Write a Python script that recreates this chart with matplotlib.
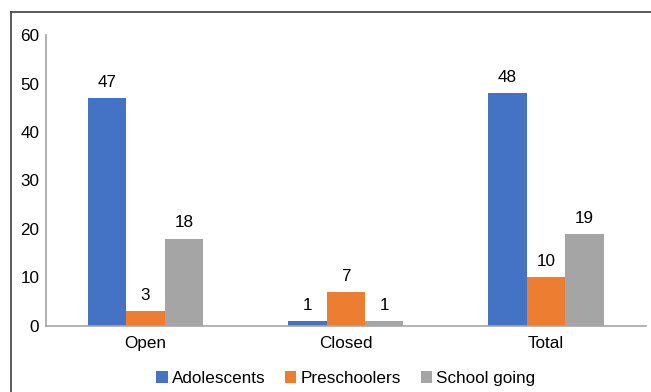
import numpy as np
import matplotlib.pyplot as plt
from matplotlib.lines import Line2D

plt.rcParams['font.family'] = ['Liberation Sans', 'DejaVu Sans']

categories = ["Open", "Closed", "Total"]
series_names = ["Adolescents", "Preschoolers", "School going"]
adolescents = [47, 1, 48]
preschoolers = [3, 7, 10]
school_going = [18, 1, 19]
colors = ["#4472C4", "#ED7D31", "#A5A5A5"]

fig = plt.figure(figsize=(6.51, 3.92), dpi=100)
ax = fig.add_axes([0.0699, 0.1684, 0.9224, 0.7423])

x = np.arange(len(categories))
width = 0.192
for i, (vals, name, c) in enumerate(zip([adolescents, preschoolers, school_going], series_names, colors)):
    bars = ax.bar(x + (i - 1) * width, vals, width, color=c, label=name)
    ax.bar_label(bars, padding=6, fontsize=12.3)

ax.set_xlim(-0.5, 2.5)
ax.set_ylim(0, 60)
ax.set_yticks(range(0, 61, 10))
ax.set_xticks(x)
ax.set_xticklabels(categories)
ax.tick_params(axis='both', length=0, labelsize=12.3)
ax.tick_params(axis='x', pad=7)
ax.tick_params(axis='y', pad=4.5)

for side in ["top", "right"]:
    ax.spines[side].set_visible(False)
for side in ["left", "bottom"]:
    ax.spines[side].set_color("#A6A6A6")
    ax.spines[side].set_linewidth(1.2)

ax.legend(loc="center", bbox_to_anchor=(0.5, -0.18), ncol=3, frameon=False,
          fontsize=12.3, handlelength=0.65, handleheight=0.65, handletextpad=0.25,
          columnspacing=1.15, bbox_transform=ax.transAxes)

# outer chart frame (top and left edges)
fig.add_artist(Line2D([11 / 651, 11 / 651], [0, 1 - 12 / 392], transform=fig.transFigure,
                      color="#404040", lw=1.2))
fig.add_artist(Line2D([11 / 651, 1], [1 - 12 / 392, 1 - 12 / 392], transform=fig.transFigure,
                      color="#404040", lw=1.2))

fig.savefig("out.png", dpi=100)
